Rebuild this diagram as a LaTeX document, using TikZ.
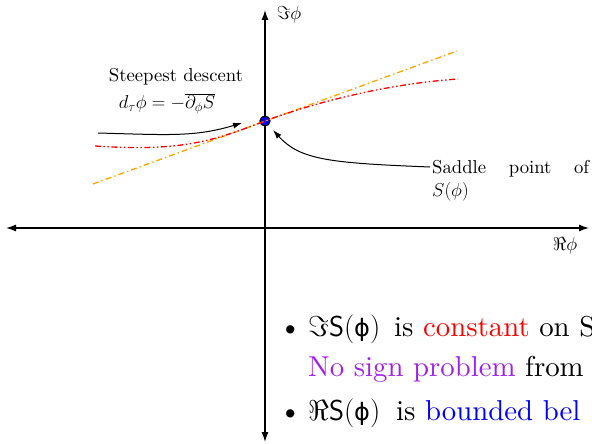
\RequirePackage{fix-cm}
\documentclass[tikz,border=0pt]{standalone}
\usepackage{fontspec}
\usetikzlibrary{arrows.meta}
\newfontfamily\tenfont{lmroman10-regular}[Extension=.otf]
\newfontfamily\phifont{DejaVu Sans}
\definecolor{myorange}{RGB}{255,165,0}
\definecolor{mypurple}{RGB}{160,32,240}
\newcommand\uphi{{\phifont\fontsize{24}{28}\selectfont ϕ}}
\tikzset{
  axis/.style={line width=1.3pt,{Latex[length=10pt,width=7pt]}-{Latex[length=10pt,width=7pt]}},
  saddlept/.style={circle,draw=black,fill=blue,line width=1.2pt,minimum size=10pt,inner sep=0pt},
  orangeline/.style={myorange,line width=1.3pt,dash pattern=on 6pt off 3pt on 1.5pt off 3pt},
  redline/.style={red,line width=1.3pt,dash pattern=on 6pt off 2.5pt on 1.5pt off 2.5pt on 1.5pt off 2.5pt},
  pointer/.style={line width=1pt,-{Latex[length=9pt,width=6pt]}},
  lbl/.style={font=\tenfont\fontsize{18.7}{23}\selectfont,inner sep=0pt},
  bul/.style={font=\tenfont\fontsize{28.8}{32}\selectfont,inner sep=0pt,anchor=base west}
}
\begin{document}
\begin{tikzpicture}[x=1pt,y=-1pt]
\useasboundingbox (0,0) rectangle (592,444);
% axes
\coordinate (xl) at (6,228);
\coordinate (xr) at (589,228);
\coordinate (yb) at (265,442);
\coordinate (yt) at (265,10);
\draw[axis] (xl) -- (xr);
\draw[axis] (yb) -- (yt);
\node[lbl] (imlab) at (289,15) {$\Im\phi$};
\node[lbl] (relab) at (565,246) {$\Re\phi$};
% saddle point
\node[saddlept] (s) at (265,121) {};
% lines
\coordinate (oa) at (93,184);
\coordinate (ob) at (457,51);
\draw[orangeline] (oa) -- (ob);
\coordinate (ra) at (95,146);
\coordinate (rb) at (458,79);
\draw[redline] (ra) .. controls (185,152) and (215,140) .. (s.center) .. controls (330,97) and (400,83) .. (rb);
% steepest descent
\node[lbl] (sd) at (176,77) {Steepest descent};
\node[lbl] (eq) at (167,104) {$d_\tau\phi=-\overline{\partial_\phi S}$};
\coordinate (sda) at (98,133);
\coordinate (sdb) at (242,123);
\draw[pointer] (sda) .. controls (170,135) and (195,137) .. (sdb);
% saddle point label
\node[lbl,anchor=north west,text width=157pt,align=justify] (sp) at (432,160) {\tolerance=9999 Saddle point of\linebreak $S(\phi)$};
\coordinate (spa) at (430,167);
\coordinate (spb) at (273,130);
\draw[pointer] (spa) .. controls (330,163) and (300,160) .. (spb);
% bullets
\node[bul] (b1) at (279,336) {\textbullet};
\node[bul] (t1a) at (308,336) {$\Im$\textsf{S}$($\uphi$)$};
\node[bul] (t1b) at (394,336) {is \textcolor{red}{constant} on S};
\node[bul] (t2) at (308,376) {\textcolor{mypurple}{No sign problem} from};
\node[bul] (b2) at (279,420) {\textbullet};
\node[bul] (t3a) at (308,420) {$\Re$\textsf{S}$($\uphi$)$};
\node[bul] (t3b) at (396,420) {is \textcolor{blue}{bounded bel}};
\end{tikzpicture}
\end{document}
